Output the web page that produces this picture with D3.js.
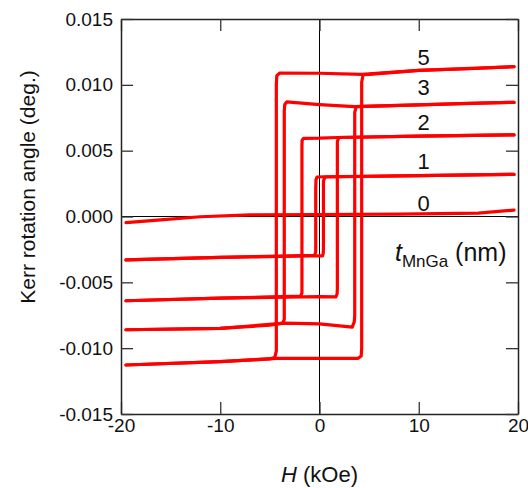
<!DOCTYPE html>
<html>
<head>
<meta charset="utf-8">
<script src="https://cdn.jsdelivr.net/npm/d3@7"></script>
<style>
  body { margin: 0; background: #fff; }
  text { font-family: 'Liberation Sans', Arial, sans-serif; }
</style>
</head>
<body>
<div id="chart"></div>
<script>
// MnGa thickness (nm) and the two branches of each Kerr loop: [H (kOe), angle (deg.)]
const thickness = [0, 1, 2, 3, 5]

const t0Line = [[-19.5, -0.00046], [-16, -0.00025], [-12, -0.00002], [-7, 0.00012], [0, 0.00015], [8, 0.00018], [16, 0.00025], [19.6, 0.00049]]

const t1Down = [[19.6, 0.0032], [10, 0.0031], [0.5, 0.00302], [-0.25, 0.003], [-0.35, 0.0028], [-0.38, 0.0022], [-0.38, -0.0027], [-0.5, -0.00295], [-10, -0.0031], [-19.5, -0.0033]]
const t1Up = [[-19.5, -0.0033], [-10, -0.0031], [0, -0.00298], [0.3, -0.003], [0.38, -0.0028], [0.4, -0.0022], [0.4, 0.0027], [0.55, 0.003], [10, 0.0031], [19.6, 0.0032]]

const t2Down = [[19.6, 0.0062], [10, 0.0061], [1.8, 0.006], [0, 0.00595], [-1.6, 0.00594], [-1.75, 0.0058], [-1.77, 0.0054], [-1.77, -0.0058], [-1.9, -0.00605], [-10, -0.0062], [-19.5, -0.0064]]
const t2Up = [[-19.5, -0.0064], [-10, -0.0062], [0, -0.00608], [1.65, -0.0061], [1.77, -0.0059], [1.8, -0.0055], [1.8, 0.0057], [1.95, 0.006], [10, 0.0061], [19.6, 0.0062]]

const t3Down = [[19.6, 0.00867], [15, 0.0086], [10, 0.00848], [3.5, 0.00834], [0, 0.0085], [-3.3, 0.0087], [-3.5, 0.0085], [-3.55, 0.008], [-3.55, -0.0078], [-3.7, -0.0081], [-5, -0.00825], [-10, -0.0085], [-19.5, -0.0086]]
const t3Up = [[-19.5, -0.0086], [-10, -0.0085], [-3.5, -0.0081], [0, -0.00815], [3.3, -0.0084], [3.5, -0.008], [3.55, -0.0075], [3.55, 0.0079], [3.7, 0.00834], [10, 0.00848], [19.6, 0.00867]]

const t5Down = [[19.6, 0.01138], [15, 0.01122], [10, 0.0111], [4.3, 0.0108], [0, 0.01088], [-4, 0.0109], [-4.3, 0.0107], [-4.35, 0.01], [-4.35, -0.0102], [-4.5, -0.0107], [-5, -0.01082], [-10, -0.01102], [-19.5, -0.01128]]
const t5Up = [[-19.5, -0.01128], [-10, -0.01102], [-4.3, -0.01078], [0, -0.01078], [3.9, -0.01077], [4.2, -0.0106], [4.25, -0.01], [4.25, 0.0102], [4.4, 0.01078], [5, 0.0108], [10, 0.0111], [19.6, 0.01138]]

const branches = [t0Line, t1Down, t1Up, t2Down, t2Up, t3Down, t3Up, t5Down, t5Up]

// curve labels, placed near H = 10.5 kOe
const labelText = ['5', '3', '2', '1', '0']
const labelAngle = [0.0115, 0.0092, 0.0066, 0.0036, 0.0004]

const xTicks = [-20, -10, 0, 10, 20]
const yTicks = [-0.015, -0.010, -0.005, 0.000, 0.005, 0.010, 0.015]

const width = 528
const height = 488
const margin = { top: 19, right: 10, bottom: 74, left: 121 }

const x = d3.scaleLinear().domain([-20, 20]).range([margin.left, width - margin.right])
const y = d3.scaleLinear().domain([-0.015, 0.015]).range([height - margin.bottom, margin.top])

const svg = d3.select('#chart')
  .append('svg')
  .attr('width', width)
  .attr('height', height)

// zero lines
svg.append('line')
  .attr('x1', x(0)).attr('x2', x(0))
  .attr('y1', y(-0.015)).attr('y2', y(0.015))
  .attr('stroke', '#000').attr('stroke-width', 1)
svg.append('line')
  .attr('x1', x(-20)).attr('x2', x(20))
  .attr('y1', y(0)).attr('y2', y(0))
  .attr('stroke', '#000').attr('stroke-width', 1)

const styleAxis = g => {
  g.attr('font-family', null).attr('font-size', null)
  g.select('.domain').attr('stroke', '#222').attr('stroke-width', 1.5)
  g.selectAll('.tick line').attr('stroke', '#333').attr('stroke-width', 1.3)
  g.selectAll('.tick text').attr('fill', '#111').style('font-size', '19px')
}

svg.append('g')
  .attr('transform', `translate(0,${y(-0.015)})`)
  .call(d3.axisBottom(x).tickValues(xTicks).tickSizeInner(-12).tickSizeOuter(0).tickPadding(5).tickFormat(d => d))
  .call(styleAxis)

svg.append('g')
  .attr('transform', `translate(0,${y(0.015)})`)
  .call(d3.axisTop(x).tickValues(xTicks).tickSizeInner(-12).tickSizeOuter(0).tickFormat(''))
  .call(styleAxis)

svg.append('g')
  .attr('transform', `translate(${x(-20)},0)`)
  .call(d3.axisLeft(y).tickValues(yTicks).tickSizeInner(-12).tickSizeOuter(0).tickPadding(8).tickFormat(d => d.toFixed(3)))
  .call(styleAxis)

svg.append('g')
  .attr('transform', `translate(${x(20)},0)`)
  .call(d3.axisRight(y).tickValues(yTicks).tickSizeInner(-12).tickSizeOuter(0).tickFormat(''))
  .call(styleAxis)

// loops
const line = d3.line()
  .x(d => x(d[0]))
  .y(d => y(d[1]))

svg.append('g')
  .selectAll('path')
  .data(branches)
  .join('path')
  .attr('d', line)
  .attr('fill', 'none')
  .attr('stroke', '#ff0000')
  .attr('stroke-width', 3.2)
  .attr('stroke-linejoin', 'round')
  .attr('stroke-linecap', 'round')

// thickness labels
svg.append('g')
  .selectAll('text')
  .data(labelText)
  .join('text')
  .attr('x', x(10.5))
  .attr('y', (d, i) => y(labelAngle[i]))
  .attr('text-anchor', 'middle')
  .style('font-size', '22px')
  .attr('fill', '#111')
  .text(d => d)

const legend = svg.append('text')
  .attr('x', x(7.6))
  .attr('y', y(-0.0034))
  .style('font-size', '25px')
  .attr('fill', '#111')
legend.append('tspan').style('font-style', 'italic').text('t')
legend.append('tspan').attr('dy', 6).style('font-size', '17px').text('MnGa')
legend.append('tspan').attr('dy', -6).text(' (nm)')

// axis titles
svg.append('text')
  .attr('transform', 'translate(35,187) rotate(-90)')
  .attr('text-anchor', 'middle')
  .style('font-size', '21px')
  .attr('fill', '#111')
  .text('Kerr rotation angle (deg.)')

const xTitle = svg.append('text')
  .attr('x', x(0))
  .attr('y', 482)
  .attr('text-anchor', 'middle')
  .style('font-size', '22px')
  .attr('fill', '#111')
xTitle.append('tspan').style('font-style', 'italic').text('H')
xTitle.append('tspan').text(' (kOe)')
</script>
</body>
</html>
